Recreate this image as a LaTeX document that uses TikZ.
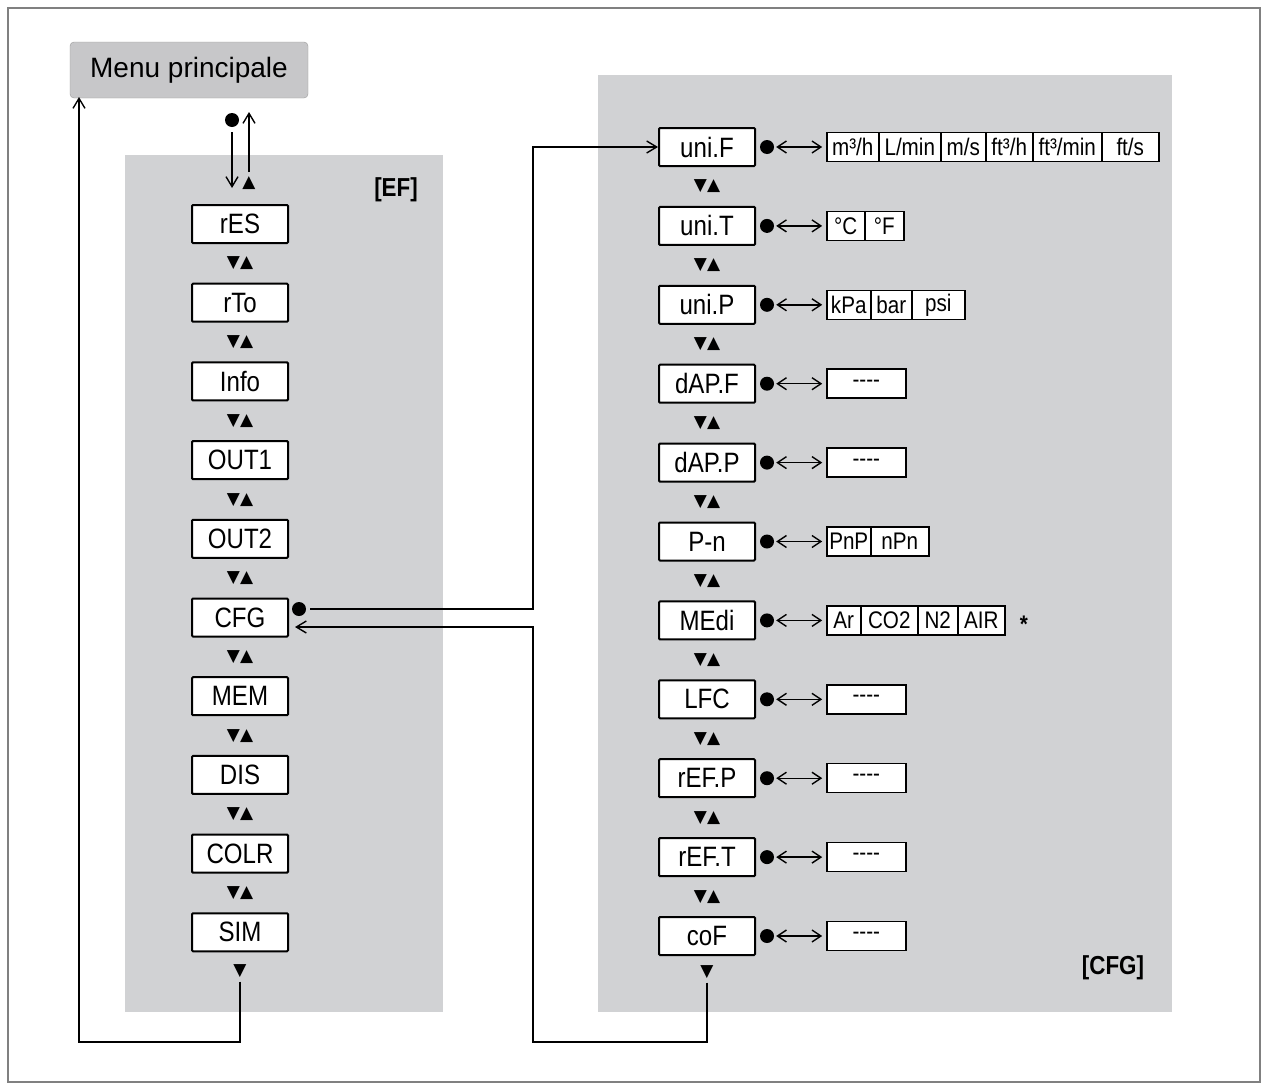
\documentclass[tikz,border=0pt]{standalone}
\usepackage{fontspec}
\setmainfont[FakeStretch=0.86]{Liberation Sans}
\newfontfamily\symf{DejaVu Sans}
\usetikzlibrary{arrows.meta}
\definecolor{panel}{HTML}{D1D2D4}
\tikzset{
 mbox/.style={draw,line width=2pt,fill=white,minimum width=96pt,minimum height=38pt,inner sep=0pt,font=\fontsize{28}{28}\selectfont,rounded corners=1pt},
 tri/.style={font=\symf\fontsize{17}{17}\selectfont,inner sep=0pt},
 dotn/.style={circle,fill=black,inner sep=0pt,minimum size=14pt},
 cell/.style={draw,line width=1.5pt,fill=white,minimum height=29pt,inner sep=0pt,font=\fontsize{24}{24}\selectfont},
 conn/.style={line width=1.4pt},
 arr/.style={conn,-{Straight Barb[length=10pt,width=12pt]}},
 darr/.style={conn,{Straight Barb[length=9pt,width=12pt]}-{Straight Barb[length=9pt,width=12pt]}},
}
\begin{document}
\begin{tikzpicture}[x=1pt,y=-1pt]
\useasboundingbox (0,0) rectangle (1268,1090);
\draw[gray,line width=1.2pt] (8,8) rectangle (1260,1082);
\fill[panel] (125,155) rectangle (443,1012);
\fill[panel] (598,75) rectangle (1172,1012);
\node[draw=gray!80,fill=panel!95!black,rounded corners=4pt,minimum width=238pt,minimum height=56pt,font=\fontsize{28}{28}\selectfont] (menu) at (189,70) {\addfontfeature{FakeStretch=1}Menu principale};
\node[font=\bfseries\fontsize{26}{26}\selectfont] (ef) at (396,190) {[EF]};
\node[font=\bfseries\fontsize{26}{26}\selectfont] (cfgl) at (1113,968) {[CFG]};
% EF column
\foreach \t [count=\i from 0] in {rES,rTo,Info,OUT1,OUT2,CFG,MEM,DIS,COLR,SIM}{
  \node[mbox] (e\i) at (240,224+78.7*\i) {\t};
}
\foreach \i in {0,...,8}{\node[tri] (et\i) at (240,263.5+78.7*\i) {▼▲};}
\node[tri] (etend) at (240,971) {▼};
\node[tri] (etop) at (249,183) {▲};
% CFG column
\foreach \t [count=\i from 0] in {uni.F,uni.T,uni.P,dAP.F,dAP.P,P-n,MEdi,LFC,rEF.P,rEF.T,coF}{
  \node[mbox] (c\i) at (707,147+78.9*\i) {\t};
  \node[dotn] (cd\i) at (767,147+78.9*\i) {};
  \coordinate (cv\i) at (826,147+78.9*\i);
  \draw[darr] (cd\i.east) ++(2,0) -- ++(46,0);
}
\foreach \i in {0,...,9}{\node[tri] (ct\i) at (707,186.5+78.9*\i) {▼▲};}
\node[tri] (ctend) at (707,972) {▼};
% value cells
\newcommand\cellrow[2]{%
 \foreach \a/\b/\t in {#2}{\pgfmathsetmacro\w{\b-\a}\node[cell,minimum width=\w pt,anchor=west] at (\a,147+78.9*#1) {\t};}}
\newcommand\dsh{{-}{-}{-}{-}}
\cellrow{0}{826/878/{m³/h},878/940/{L/min},940/985/{m/s},985/1032/{ft³/h},1032/1101/{ft³/min},1101/1158/{ft/s}}
\cellrow{1}{826/864/°C,864/903/°F}
\cellrow{2}{826/870/kPa,870/911/bar,911/964/psi}
\cellrow{3}{826/905/\dsh}
\cellrow{4}{826/905/\dsh}
\cellrow{5}{826/870/PnP,870/928/nPn}
\cellrow{6}{826/860/Ar,860/917/CO2,917/957/N2,957/1004/AIR}
\cellrow{7}{826/905/\dsh}
\cellrow{8}{826/905/\dsh}
\cellrow{9}{826/905/\dsh}
\cellrow{10}{826/905/\dsh}
\node[font=\bfseries\fontsize{24}{24}\selectfont] (star) at (1024,624) {*};
% top connectors
\node[dotn] (tdot) at (232,120) {};
\draw[arr] (tdot.south) ++(0,5) -- (232,188);
\draw[arr] (249,172) -- (249,112);
% bottom EF loop
\coordinate (l1) at (240,1042);
\coordinate (l2) at (79,1042);
\draw[arr] (etend.south) ++(0,4) -- (l1) -- (l2) -- (79,97);
% CFG out
\node[dotn] (cfgdot) at (299,609) {};
\coordinate (r1) at (533,609);
\coordinate (r2) at (533,147);
\draw[arr] (cfgdot.east) ++(4,0) -- (r1) -- (r2) -- (c0.west);
% return
\coordinate (q1) at (707,1042);
\coordinate (q2) at (533,1042);
\coordinate (q3) at (533,627);
\draw[arr] (ctend.south) ++(0,4) -- (q1) -- (q2) -- (q3) -- (295,627);
\end{tikzpicture}
\end{document}
